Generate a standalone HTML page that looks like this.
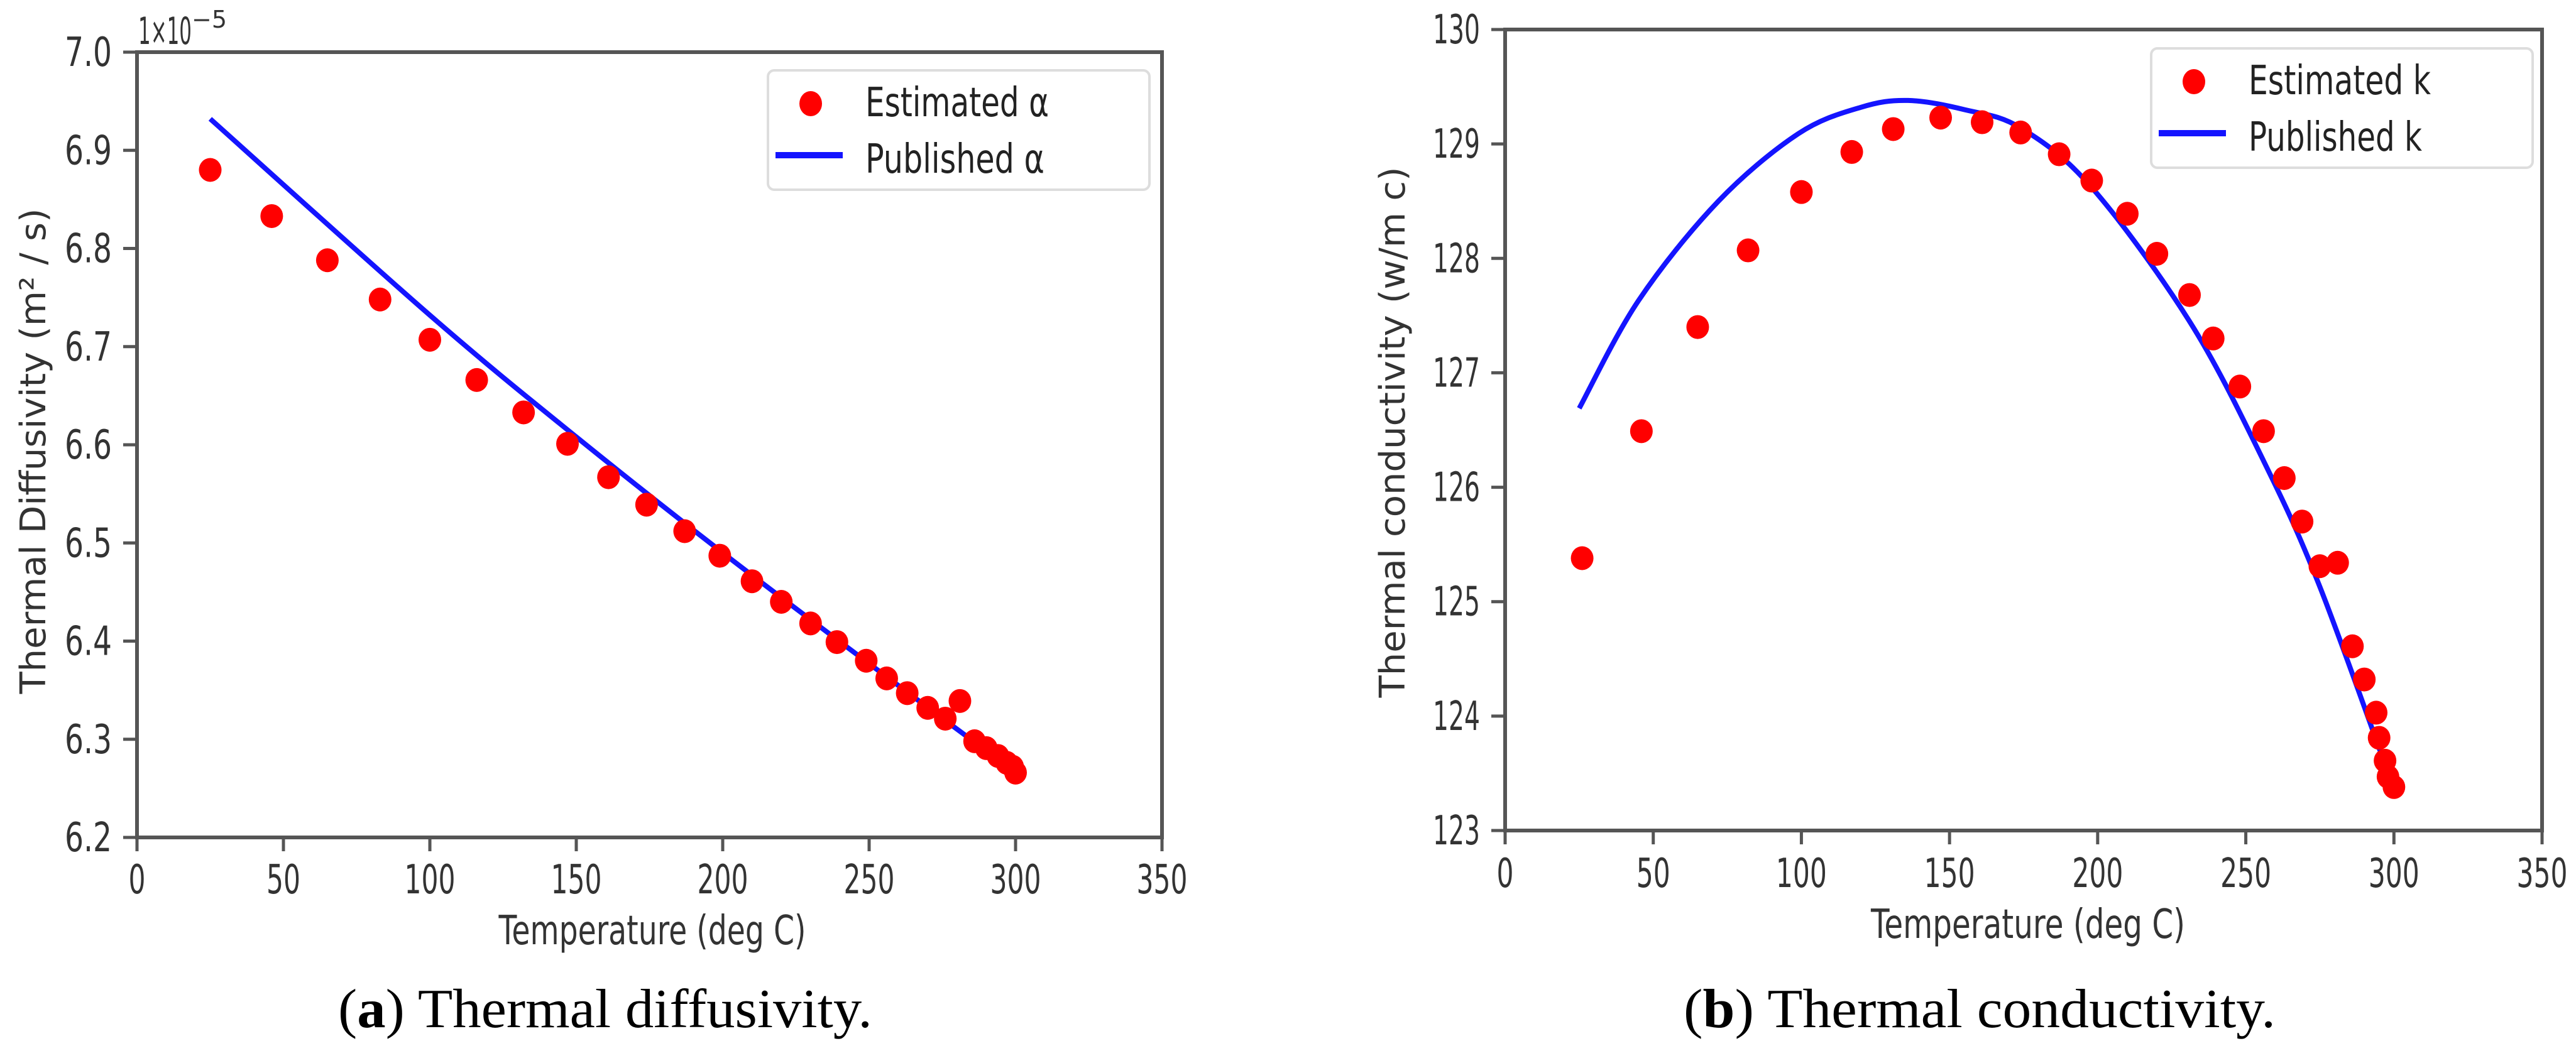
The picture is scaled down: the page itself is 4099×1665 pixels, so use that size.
<!DOCTYPE html>
<html><head><meta charset="utf-8"><style>
html,body{margin:0;padding:0;background:#fff;}
svg{display:block;}
</style></head><body>
<svg id="fig" width="4099" height="1665" viewBox="0 0 4099 1665" xmlns="http://www.w3.org/2000/svg">
<rect width="4099" height="1665" fill="#fff"/>
<g id="chartA"></g>
<g id="chartB"></g>
<text x="538" y="1635" font-family="Liberation Serif, serif" font-size="88" textLength="850" lengthAdjust="spacingAndGlyphs">(<tspan font-weight="bold">a</tspan>) Thermal diffusivity.</text>
<text x="2679" y="1635" font-family="Liberation Serif, serif" font-size="88" textLength="942" lengthAdjust="spacingAndGlyphs">(<tspan font-weight="bold">b</tspan>) Thermal conductivity.</text>
</svg>
<script>
// Chart A data
const aEstT = [25,46,65,83,100,116,132,147,161,174,187,199,210,220,230,239,249,256,263,270,276,281,286,290,294,297,299,300];
const aEstV = [6.880,6.833,6.788,6.748,6.707,6.666,6.633,6.601,6.567,6.539,6.512,6.487,6.461,6.440,6.418,6.399,6.380,6.362,6.347,6.332,6.321,6.339,6.298,6.291,6.283,6.276,6.272,6.266];
const aPubT = [25,100,150,200,250,300];
const aPubV = [6.932,6.732,6.608,6.490,6.377,6.266];
const aXTicks = [0,50,100,150,200,250,300,350];
const aYTicks = [6.2,6.3,6.4,6.5,6.6,6.7,6.8,6.9,7.0];
const aYTickLabels = ["6.2","6.3","6.4","6.5","6.6","6.7","6.8","6.9","7.0"];
// Chart B data
const bEstT = [26,46,65,82,100,117,131,147,161,174,187,198,210,220,231,239,248,256,263,269,275,281,286,290,294,295,297,298,300];
const bEstV = [125.38,126.49,127.40,128.07,128.58,128.93,129.13,129.23,129.19,129.10,128.91,128.68,128.39,128.04,127.68,127.30,126.88,126.49,126.08,125.70,125.31,125.34,124.61,124.32,124.03,123.81,123.61,123.47,123.38];
const bPubT = [25,45,72,99,120,136,155,174,198,231,256,275,300];
const bPubV = [126.69,127.63,128.50,129.09,129.32,129.38,129.30,129.14,128.62,127.45,126.23,125.13,123.36];
const bXTicks = [0,50,100,150,200,250,300,350];
const bYTicks = [123,124,125,126,127,128,129,130];
const bYTickLabels = ["123","124","125","126","127","128","129","130"];

const NS = "http://www.w3.org/2000/svg";
function mk(tag, attrs, parent){ const e=document.createElementNS(NS,tag); for(const k in attrs) e.setAttribute(k,attrs[k]); parent.appendChild(e); return e; }
const TF = "DejaVu Sans, Liberation Sans, sans-serif";

function smoothPath(pts){
  let d = "M" + pts[0][0].toFixed(1) + " " + pts[0][1].toFixed(1);
  for(let i=0;i<pts.length-1;i++){
    const p0 = pts[Math.max(0,i-1)], p1 = pts[i], p2 = pts[i+1], p3 = pts[Math.min(pts.length-1,i+2)];
    const c1x = p1[0]+(p2[0]-p0[0])/6, c1y = p1[1]+(p2[1]-p0[1])/6;
    const c2x = p2[0]-(p3[0]-p1[0])/6, c2y = p2[1]-(p3[1]-p1[1])/6;
    d += "C"+c1x.toFixed(1)+" "+c1y.toFixed(1)+" "+c2x.toFixed(1)+" "+c2y.toFixed(1)+" "+p2[0].toFixed(1)+" "+p2[1].toFixed(1);
  }
  return d;
}

function drawChart(g, cfg){
  const sx = v => cfg.x0 + (v-cfg.xmin)/(cfg.xmax-cfg.xmin)*(cfg.x1-cfg.x0);
  const sy = v => cfg.y1 - (v-cfg.ymin)/(cfg.ymax-cfg.ymin)*(cfg.y1-cfg.y0);
  const pts = cfg.pubT.map((t,i)=>[sx(t), sy(cfg.pubV[i])]);
  const line = mk("path",{d:smoothPath(pts),fill:"none",stroke:"#1414ff","stroke-width":8,"stroke-linejoin":"round"},g);
  
  
  cfg.estT.forEach((t,i)=>{
    const c = mk("ellipse",{cx:sx(t),cy:sy(cfg.estV[i]),rx:18,ry:19,fill:"#ff0000"},g);
    
    
  });
  const fr = mk("rect",{x:cfg.x0,y:cfg.y0,width:cfg.x1-cfg.x0,height:cfg.y1-cfg.y0,fill:"none",stroke:"#555","stroke-width":6},g);
  
  
  cfg.xTicks.forEach(t=>{
    const x = sx(t);
    const tk = mk("line",{x1:x,y1:cfg.y1,x2:x,y2:cfg.y1+22,stroke:"#555","stroke-width":5},g);
    
    
    const s = String(t);
    const tx = mk("text",{x:x,y:cfg.xTickY,"font-family":TF,"font-size":64,fill:"#333","text-anchor":"middle",textLength:s.length*27,lengthAdjust:"spacingAndGlyphs"},g);
    tx.textContent = s;
    
    
  });
  cfg.yTicks.forEach((v,i)=>{
    const y = sy(v);
    const tk = mk("line",{x1:cfg.x0-22,y1:y,x2:cfg.x0,y2:y,stroke:"#555","stroke-width":5},g);
    
    
    const s = cfg.yLabels[i];
    const tx = mk("text",{x:cfg.x0-40,y:y+22,"font-family":TF,"font-size":64,fill:"#333","text-anchor":"end",textLength:s.length*25,lengthAdjust:"spacingAndGlyphs"},g);
    tx.textContent = s;
    
    
  });
  const xt = mk("text",{x:cfg.xTitleX,y:cfg.xTitleY,"font-family":TF,"font-size":64,fill:"#333","text-anchor":"middle",textLength:cfg.xTitleLen,lengthAdjust:"spacingAndGlyphs"},g);
  xt.textContent = "Temperature (deg C)";
  
  
  const yt = mk("text",{x:0,y:0,transform:"translate("+cfg.yTitleX+","+cfg.yTitleY+") rotate(-90)","font-family":TF,"font-size":56,fill:"#333","text-anchor":"middle",textLength:cfg.yTitleLen,lengthAdjust:"spacingAndGlyphs"},g);
  yt.textContent = cfg.yTitle;
  
  
  const L = cfg.leg;
  const lb = mk("rect",{x:L.x,y:L.y,width:607,height:190,rx:10,fill:"#fff",stroke:"#ddd","stroke-width":4},g);
  
  
  const lm = mk("ellipse",{cx:L.x+68,cy:L.y+53,rx:18,ry:20,fill:"#ff0000"},g);
  
  
  const ll = mk("line",{x1:L.x+12,y1:L.y+135,x2:L.x+119,y2:L.y+135,stroke:"#1414ff","stroke-width":10},g);
  
  
  const t1 = mk("text",{x:L.x+155,y:L.y+73,"font-family":TF,"font-size":64,fill:"#222",textLength:L.w1,lengthAdjust:"spacingAndGlyphs"},g);
  t1.textContent = cfg.legText[0];
  
  
  const t2 = mk("text",{x:L.x+155,y:L.y+163,"font-family":TF,"font-size":64,fill:"#222",textLength:L.w2,lengthAdjust:"spacingAndGlyphs"},g);
  t2.textContent = cfg.legText[1];
  
  
}

const gA = document.getElementById("chartA");
drawChart(gA,{x0:218,x1:1849,y0:83,y1:1333,xmin:0,xmax:350,ymin:6.2,ymax:7.0,
  estT:aEstT,estV:aEstV,pubT:aPubT,pubV:aPubV,xTicks:aXTicks,yTicks:aYTicks,yLabels:aYTickLabels,
  xTickY:1422,xTitleX:1038,xTitleY:1503,xTitleLen:489,yTitleX:72,yTitleY:718,yTitleLen:773,
  yTitle:"Thermal Diffusivity (m² / s)",leg:{x:1222,y:112,w1:292,w2:285},legText:["Estimated α","Published α"]});
const ex = mk("text",{x:220,y:70,"font-family":TF,"font-size":60,fill:"#333"},gA);


const ex1 = mk("tspan",{textLength:85,lengthAdjust:"spacingAndGlyphs"},ex);
ex1.textContent = "1×10";
const ex2 = mk("tspan",{dy:-26,"font-size":38},ex);
ex2.textContent = "−5";

const gB = document.getElementById("chartB");
drawChart(gB,{x0:2395,x1:4045,y0:47,y1:1322,xmin:0,xmax:350,ymin:123,ymax:130,
  estT:bEstT,estV:bEstV,pubT:bPubT,pubV:bPubV,xTicks:bXTicks,yTicks:bYTicks,yLabels:bYTickLabels,
  xTickY:1412,xTitleX:3227,xTitleY:1493,xTitleLen:500,yTitleX:2235,yTitleY:688,yTitleLen:845,
  yTitle:"Thermal conductivity (w/m c)",leg:{x:3423,y:77,w1:290,w2:276},legText:["Estimated k","Published k"]});
</script>
</body></html>
